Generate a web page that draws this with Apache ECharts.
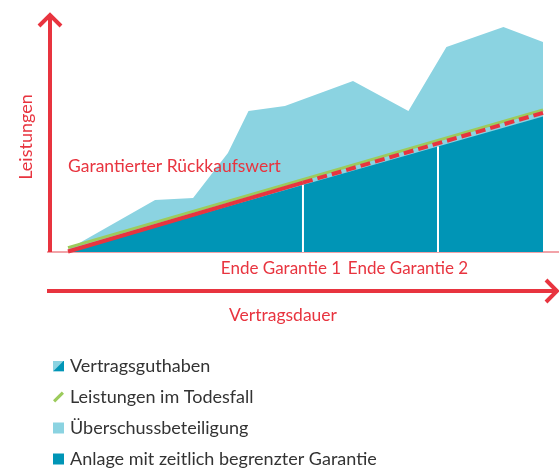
<!DOCTYPE html>
<html><head><meta charset="utf-8">
<script src="https://cdn.jsdelivr.net/npm/echarts@6/dist/echarts.min.js"></script>
<style>html,body{margin:0;padding:0;background:#fff}#c{width:559px;height:470px}</style>
</head><body><div id="c"></div>
<script>
// Contract years (x) and benefit level (y, relative units)
const bonusX = [0, 5.5, 7.9, 10.1, 11.4, 13.7, 18.0, 21.5, 23.9, 27.5, 30];
const bonusY = [1, 21.7, 22.5, 41.3, 58.8, 60.8, 71.3, 58.8, 85.4, 93.8, 87.5];
const guaranteeX = [0, 30];
const guaranteeY = [0, 56.5];
const deathX = [0, 30];
const deathY = [1.8, 59.2];
const surrenderSolidX = [0, 14.84];
const surrenderSolidY = [0.2, 28.9];
const surrenderDashX = [14.84, 30];
const surrenderDashY = [28.9, 58];
const guaranteeEndX = [14.84, 23.37];
const guaranteeEndLabels = ['Ende Garantie 1', 'Ende Garantie 2'];
const legendNames = ['Vertragsguthaben', 'Leistungen im Todesfall', 'Überschussbeteiligung', 'Anlage mit zeitlich begrenzter Garantie'];

const RED = '#E8343F', LIGHT = '#8BD3E1', DARK = '#0095B6', GREEN = '#9CCB5C';
const FONT = 'Lato';
const zip = (xs, ys) => xs.map((x, i) => [x, ys[i]]);
const lowerAt = x => guaranteeY[0] + (guaranteeY[1] - guaranteeY[0]) * (x - guaranteeX[0]) / (guaranteeX[1] - guaranteeX[0]);

const splitIcon = 'image://data:image/svg+xml;utf8,' + encodeURIComponent(
  '<svg xmlns="http://www.w3.org/2000/svg" width="10" height="10"><rect width="10" height="10" fill="' + LIGHT + '"/><polygon points="10,0 10,10 0,10" fill="' + DARK + '"/></svg>');
const pillIcon = 'path://M8,0 L10,2 L2,10 L0,8 Z';

const chart = echarts.init(document.getElementById('c'));
const series = [
  { name: legendNames[2], type: 'line', data: zip(bonusX, bonusY), symbol: 'none',
    lineStyle: { width: 0 }, areaStyle: { color: LIGHT, opacity: 1 }, itemStyle: { color: LIGHT }, z: 1 },
  { name: legendNames[3], type: 'line', data: zip(guaranteeX, guaranteeY), symbol: 'none',
    lineStyle: { width: 0 }, areaStyle: { color: DARK, opacity: 1 }, itemStyle: { color: DARK }, z: 2 },
  { name: legendNames[1], type: 'line', data: zip(deathX, deathY), symbol: 'none',
    lineStyle: { width: 3, color: GREEN }, itemStyle: { color: GREEN }, z: 4 },
  { name: 'Garantierter Rückkaufswert', type: 'line', data: zip(surrenderSolidX, surrenderSolidY), symbol: 'none',
    lineStyle: { width: 4, color: RED }, z: 5 },
  { name: 'Garantierter Rückkaufswert ', type: 'line', data: zip(surrenderDashX, surrenderDashY), symbol: 'none',
    lineStyle: { width: 4, color: RED, type: [10, 5] }, z: 5 },
  { name: legendNames[0], type: 'line', data: [], itemStyle: { color: DARK } }
];
guaranteeEndX.forEach((x, i) => {
  series.push({ name: 'end' + i, type: 'line', data: [[x, 0], [x, lowerAt(x)]], symbol: 'none',
    lineStyle: { width: 2, color: '#fff' }, z: 3 });
});

chart.setOption({
  animation: false,
  textStyle: { fontFamily: FONT },
  grid: { left: 68, right: 16, top: 12, bottom: 218 },
  xAxis: { type: 'value', min: 0, max: 30, show: false },
  yAxis: { type: 'value', min: 0, max: 100, show: false },
  legend: {
    orient: 'vertical', left: 48, top: 350, height: 118, itemWidth: 11, itemHeight: 11, itemGap: 9,
    textStyle: { fontFamily: FONT, fontSize: 18, color: '#333', lineHeight: 22, padding: [0, 0, 0, 1] },
    data: [
      { name: legendNames[0], icon: splitIcon },
      { name: legendNames[1], icon: pillIcon, itemStyle: { color: GREEN } },
      { name: legendNames[2], icon: 'rect' },
      { name: legendNames[3], icon: 'rect' }
    ],
    selectedMode: false
  },
  series: series,
  graphic: [
    { type: 'line', shape: { x1: 47, y1: 252, x2: 559, y2: 252 }, style: { stroke: '#F2A3A8', lineWidth: 2 }, z: 0 },
    { type: 'polyline', shape: { points: [[50, 252], [50, 15]] }, style: { stroke: RED, lineWidth: 4, fill: null }, z: 100 },
    { type: 'polyline', shape: { points: [[39, 26], [50, 15], [61, 26]] }, style: { stroke: RED, lineWidth: 4, fill: null, lineJoin: 'miter' }, z: 100 },
    { type: 'polyline', shape: { points: [[47, 291], [556, 291]] }, style: { stroke: RED, lineWidth: 4, fill: null }, z: 100 },
    { type: 'polyline', shape: { points: [[546, 280], [557, 291], [546, 302]] }, style: { stroke: RED, lineWidth: 4, fill: null, lineJoin: 'miter' }, z: 100 },
    { type: 'text', x: 26, y: 137, rotation: Math.PI / 2, z: 100,
      style: { text: 'Leistungen', fill: RED, font: '18px ' + FONT, textAlign: 'center', textVerticalAlign: 'middle' } },
    { type: 'text', x: 68, y: 166, z: 100,
      style: { text: 'Garantierter Rückkaufswert', fill: RED, font: '17.5px ' + FONT, textAlign: 'left', textVerticalAlign: 'middle' } },
    { type: 'text', x: 281, y: 269, z: 100,
      style: { text: guaranteeEndLabels[0], fill: RED, font: '17px ' + FONT, textAlign: 'center', textVerticalAlign: 'middle' } },
    { type: 'text', x: 408, y: 269, z: 100,
      style: { text: guaranteeEndLabels[1], fill: RED, font: '17px ' + FONT, textAlign: 'center', textVerticalAlign: 'middle' } },
    { type: 'text', x: 283, y: 315, z: 100,
      style: { text: 'Vertragsdauer', fill: RED, font: '17.5px ' + FONT, textAlign: 'center', textVerticalAlign: 'middle' } }
  ]
});
</script></body></html>
